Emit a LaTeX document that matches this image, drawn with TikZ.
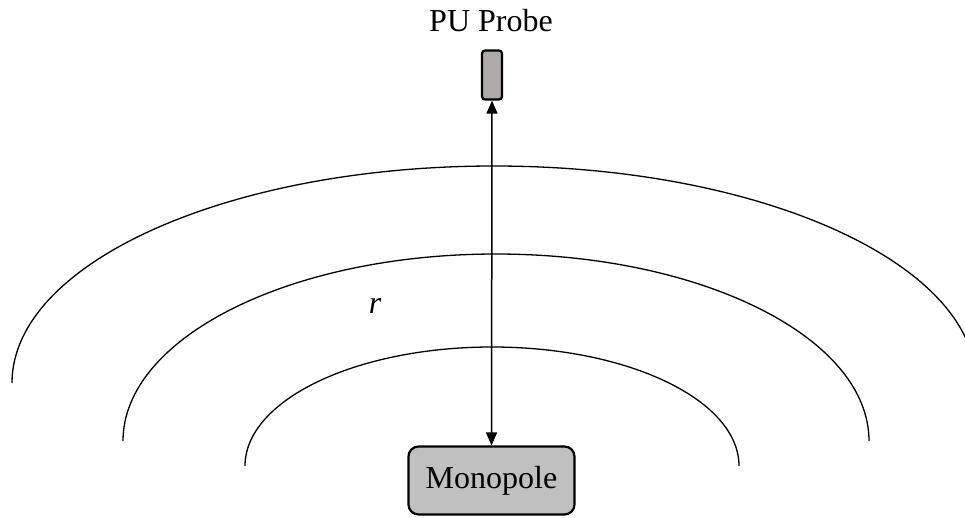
\documentclass[tikz,border=0pt]{standalone}
\usepackage{fontspec}
\setmainfont{Liberation Serif}
\usetikzlibrary{arrows.meta}
\begin{document}
\begin{tikzpicture}[x=1pt,y=-1pt,
  wave/.style={line width=1.3pt},
  probebox/.style={draw, line width=2.2pt, rounded corners=3pt, fill=probegray},
  sourcebox/.style={draw, line width=2.2pt, rounded corners=10pt, fill=sourcegray,
    minimum width=166pt, minimum height=68pt, font=\fontsize{32}{36}\selectfont},
  label/.style={font=\fontsize{32}{36}\selectfont},
  dist/.style={line width=1.5pt, {Triangle[length=13pt,width=11pt]}-{Triangle[length=13pt,width=11pt]}}]
\definecolor{probegray}{RGB}{174,170,170}
\definecolor{sourcegray}{RGB}{192,192,192}
\useasboundingbox (0,0) rectangle (965,517);
% wavefronts
\draw[wave] (12,383) arc[start angle=180, end angle=360, x radius=482, y radius=217];
\draw[wave] (123,441) arc[start angle=180, end angle=360, x radius=373, y radius=187];
\draw[wave] (245,466) arc[start angle=180, end angle=360, x radius=247, y radius=119];
% probe and source
\node[probebox, minimum width=20pt, minimum height=49pt, inner sep=0pt] (probe) at (492,75) {};
\node[label, anchor=base] (probelabel) at (491,31) {PU Probe};
\node[sourcebox] (mono) at (491.5,480.5) {Monopole};
% distance
\draw[dist] (probe.south) -- (mono.north);
\node[label, font=\fontsize{32}{36}\selectfont\itshape] (r) at (375,306) {r};
\end{tikzpicture}
\end{document}
